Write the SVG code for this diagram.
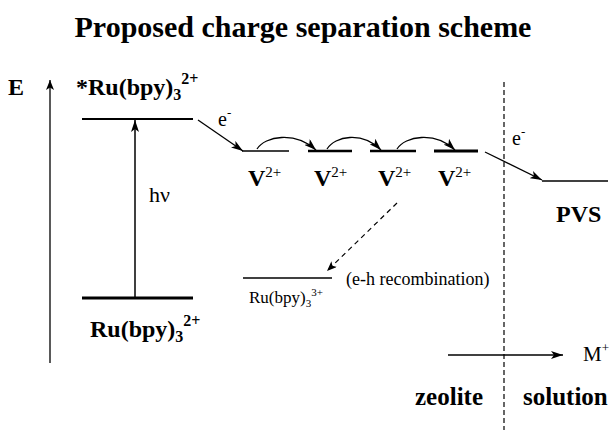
<svg xmlns="http://www.w3.org/2000/svg" width="614" height="433" viewBox="0 0 614 433">
<style>
text{font-family:"Liberation Serif","Times New Roman",Times,"DejaVu Serif",serif;fill:#000}
.b{font-weight:bold}
.n{font-weight:normal}
.ln{stroke:#000;fill:none}
</style>
<defs>
<marker id="ah" viewBox="0 0 12 8" refX="12" refY="4" markerWidth="12" markerHeight="8" markerUnits="userSpaceOnUse" orient="auto">
<path d="M0,0 L12,4 L0,8 L3,4 Z" fill="#000"/>
</marker>
<marker id="ahs" viewBox="0 0 10 8" refX="10" refY="4" markerWidth="10" markerHeight="8" markerUnits="userSpaceOnUse" orient="auto">
<path d="M0,0 L10,4 L0,8 L2.5,4 Z" fill="#000"/>
</marker>
</defs>
<rect width="614" height="433" fill="#fff"/>
<text class="b" x="303" y="37" font-size="30" text-anchor="middle">Proposed charge separation scheme</text>

<g id="axis">
<line class="ln" x1="50" y1="363" x2="50" y2="80" stroke-width="1.3" marker-end="url(#ahs)"/>
<text class="b" x="8" y="95" font-size="24">E</text>
</g>

<g id="ru-excited">
<line class="ln" x1="82" y1="119" x2="193" y2="119" stroke-width="2"/>
<text class="b" x="76" y="95" font-size="24">*Ru(bpy)<tspan font-size="16" dy="5">3</tspan><tspan font-size="16" dy="-16">2+</tspan></text>
</g>

<g id="ru-ground">
<line class="ln" x1="82" y1="298" x2="193" y2="298" stroke-width="3"/>
<text class="b" x="90" y="337" font-size="24">Ru(bpy)<tspan font-size="16" dy="5">3</tspan><tspan font-size="16" dy="-16">2+</tspan></text>
</g>

<g id="v1">
<line class="ln" x1="242" y1="151" x2="289" y2="151" stroke-width="1.5"/>
<text class="b" x="248" y="186" font-size="24">V<tspan class="n" font-size="15" dy="-9">2+</tspan></text>
</g>
<g id="v2">
<line class="ln" x1="308" y1="151" x2="352" y2="151" stroke-width="2.5"/>
<text class="b" x="314" y="186" font-size="24">V<tspan class="n" font-size="15" dy="-9">2+</tspan></text>
</g>
<g id="v3">
<line class="ln" x1="370" y1="151" x2="416" y2="151" stroke-width="2.5"/>
<text class="b" x="378" y="186" font-size="24">V<tspan class="n" font-size="15" dy="-9">2+</tspan></text>
</g>
<g id="v4">
<line class="ln" x1="434" y1="151" x2="478" y2="151" stroke-width="3"/>
<text class="b" x="438" y="186" font-size="24">V<tspan class="n" font-size="15" dy="-9">2+</tspan></text>
</g>

<g id="pvs">
<line class="ln" x1="542" y1="181" x2="608" y2="181" stroke-width="1.5"/>
<text class="b" x="556" y="222" font-size="24">PVS</text>
</g>

<g id="ru-oxidized">
<line class="ln" x1="243" y1="278" x2="332" y2="278" stroke-width="1.5"/>
<text x="249" y="303" font-size="17">Ru(bpy)<tspan font-size="11" dy="4">3</tspan><tspan font-size="11" dy="-11">3+</tspan></text>
<text x="346" y="285" font-size="18">(e-h recombination)</text>
</g>

<g id="boundary">
<line class="ln" x1="504" y1="82" x2="504" y2="430" stroke-width="1.2" stroke-dasharray="5,3"/>
<text class="b" x="415" y="405" font-size="25">zeolite</text>
<text class="b" x="523" y="405" font-size="25">solution</text>
</g>

<g id="m-plus">
<text x="583" y="361" font-size="21">M<tspan font-size="13" dy="-9">+</tspan></text>
</g>

<g id="connectors">
<line class="ln" x1="135" y1="298" x2="135" y2="120" stroke-width="1.5" marker-end="url(#ah)"/>
<text x="149" y="202" font-size="22">hν</text>
<line class="ln" x1="198" y1="120" x2="243" y2="151" stroke-width="1.3" marker-end="url(#ah)"/>
<text x="218" y="126" font-size="20">e<tspan font-size="13" dy="-9">-</tspan></text>
<path class="ln" d="M257,149 C265,136 295,131 316,150" stroke-width="1.3" marker-end="url(#ah)"/>
<path class="ln" d="M327,149 C335,136 362,131 381,150" stroke-width="1.3" marker-end="url(#ah)"/>
<path class="ln" d="M397,149 C405,136 435,131 455,150" stroke-width="1.3" marker-end="url(#ah)"/>
<line class="ln" x1="485" y1="152" x2="542" y2="180" stroke-width="1.3" marker-end="url(#ah)"/>
<text x="512" y="145" font-size="20">e<tspan font-size="13" dy="-9">-</tspan></text>
<line class="ln" x1="397" y1="203" x2="327" y2="271" stroke-width="1.2" stroke-dasharray="5,4" marker-end="url(#ahs)"/>
<line class="ln" x1="448" y1="355" x2="563" y2="355" stroke-width="1.5" marker-end="url(#ah)"/>
</g>
</svg>
